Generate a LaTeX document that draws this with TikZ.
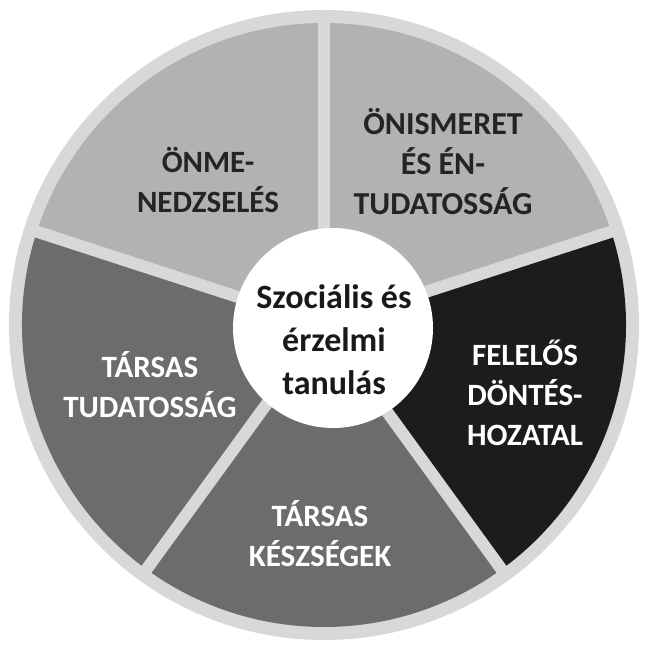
\documentclass[tikz,border=0pt]{standalone}
\usepackage{fontspec}
\setmainfont{Carlito}
\definecolor{ring}{RGB}{216,216,216}
\definecolor{light}{RGB}{178,178,178}
\definecolor{mid}{RGB}{108,108,108}
\definecolor{dark}{RGB}{30,27,30}
\definecolor{ink}{RGB}{36,36,36}
\begin{document}
\begin{tikzpicture}[x=1pt,y=1pt,
		label/.style={align=center,font=\fontsize{31}{40}\selectfont\bfseries,text=ink},
		labelw/.style={label,text=white}]
	\useasboundingbox (-324,-327) rectangle (324,325);
	\fill [ring] (0,0) circle (315);
	\fill [light] (0,0) -- (18:302) arc[start angle=18,end angle=90,radius=302] -- cycle;
	\fill [light] (0,0) -- (90:302) arc[start angle=90,end angle=162,radius=302] -- cycle;
	\fill [mid] (0,0) -- (162:302) arc[start angle=162,end angle=234,radius=302] -- cycle;
	\fill [mid] (0,0) -- (234:302) arc[start angle=234,end angle=306,radius=302] -- cycle;
	\fill [dark] (0,0) -- (306:302) arc[start angle=306,end angle=378,radius=302] -- cycle;
	\foreach \a in {18,90,162,234,306}
		\draw [ring,line width=12] (0,0) -- (\a:309);
	\node [circle,fill=white,minimum size=200,inner sep=0] (kozep) at (9,-3) {};
	\node [label,font=\fontsize{34}{43}\selectfont\bfseries,text=black!90] (szel) at (10,-15) {Szociális és\\érzelmi\\tanulás};
	\node [label] (onme) at (-116,145) {ÖNME-\\NEDZSELÉS};
	\node [label,font=\fontsize{32}{40}\selectfont\bfseries] (onis) at (119,163) {ÖNISMERET\\ÉS ÉN-\\TUDATOSSÁG};
	\node [labelw] (dont) at (201,-68) {FELELŐS\\DÖNTÉS-\\HOZATAL};
	\node [labelw] (kesz) at (-4,-209) {TÁRSAS\\KÉSZSÉGEK};
	\node [labelw] (tuda) at (-174,-60) {TÁRSAS\\TUDATOSSÁG};
\end{tikzpicture}
\end{document}
